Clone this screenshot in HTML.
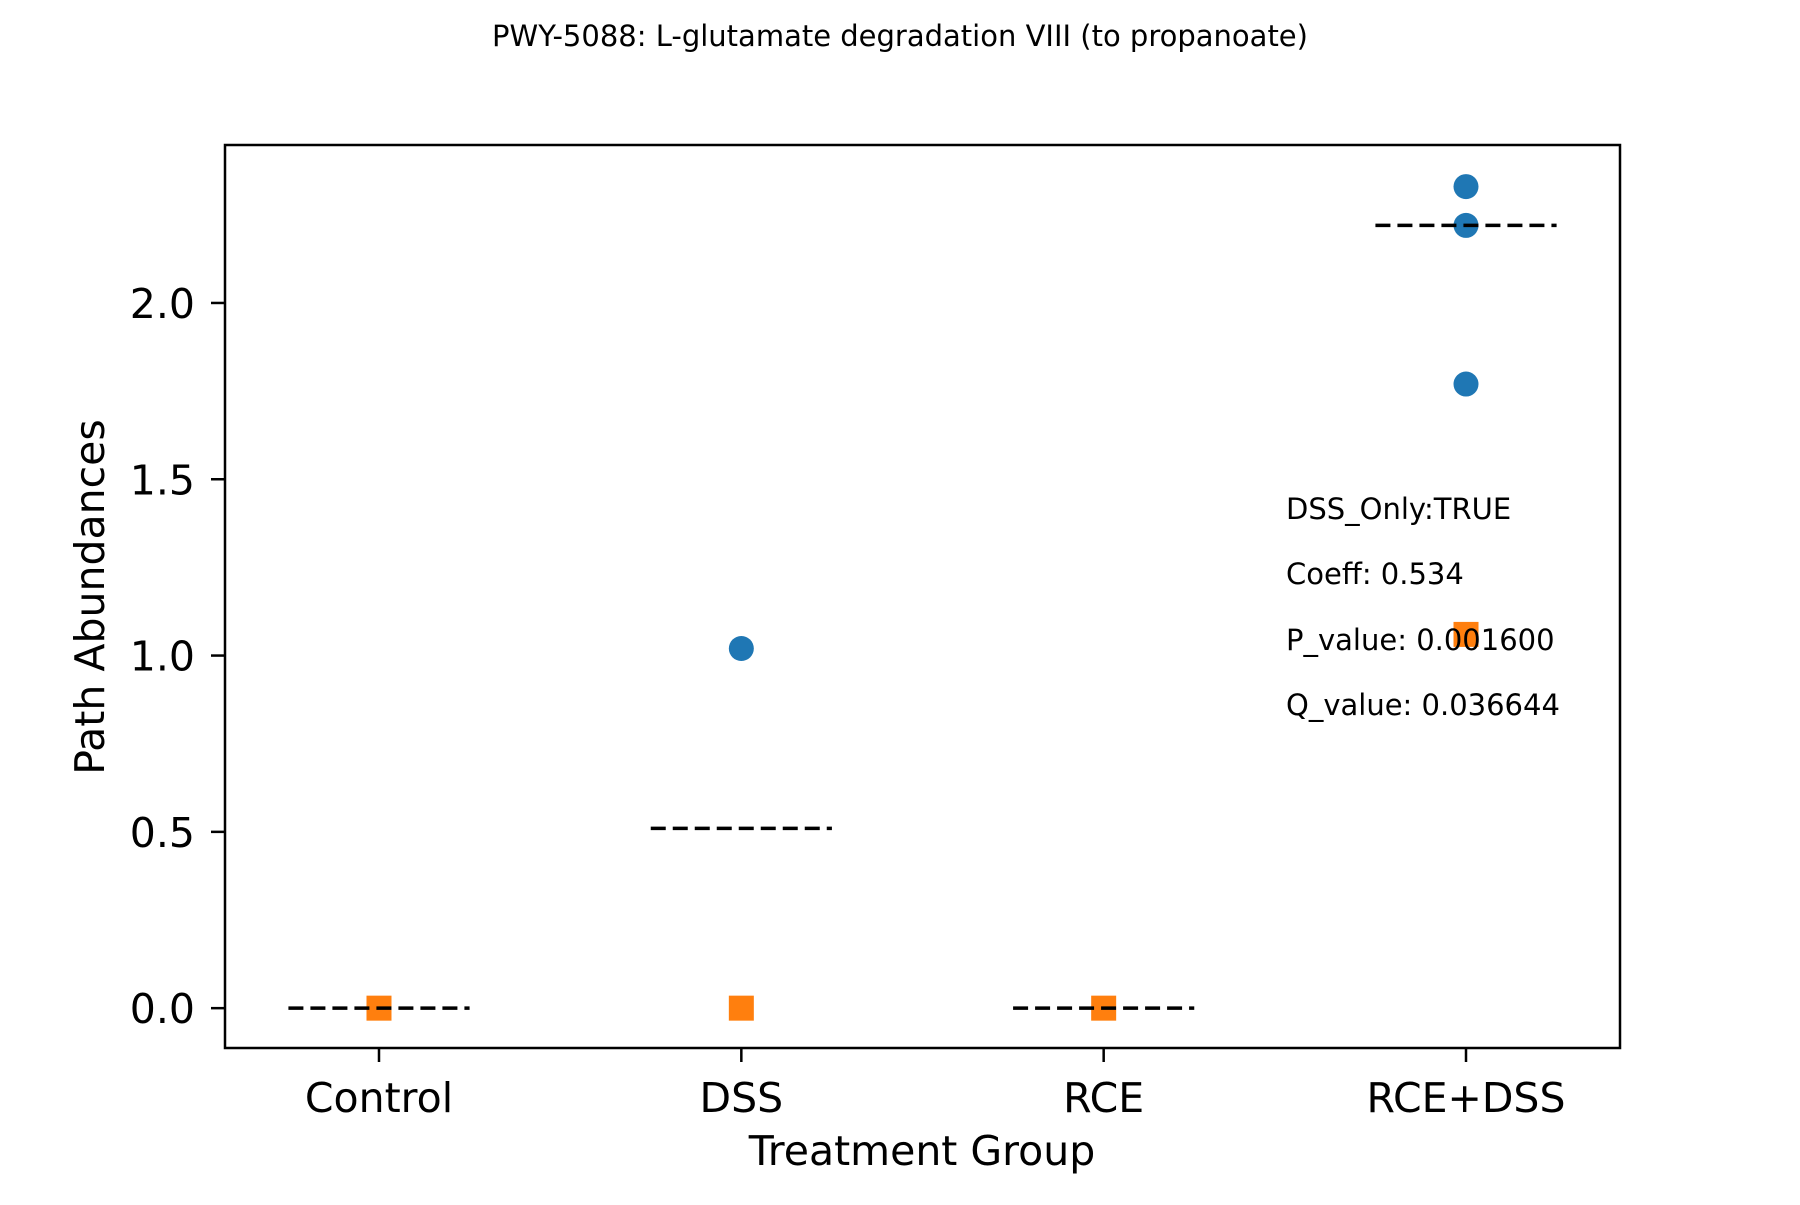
<!DOCTYPE html>
<html><head><meta charset="utf-8"><style>
body{margin:0;background:#fff;}
svg text{font-family:"DejaVu Sans","Liberation Sans",sans-serif;fill:#000;}
</style></head><body>
<svg id="chart" width="1800" height="1200" viewBox="0 0 1800 1200" xmlns="http://www.w3.org/2000/svg">
<rect width="1800" height="1200" fill="#fff"/>
<text x="900" y="46" font-size="29" text-anchor="middle">PWY-5088: L-glutamate degradation VIII (to propanoate)</text>
<g id="plot"></g>
<text x="922" y="1165" font-size="41" text-anchor="middle">Treatment Group</text>
<text transform="translate(104,597) rotate(-90)" font-size="41" text-anchor="middle">Path Abundances</text>
<g font-size="29">
<text x="1286" y="519">DSS_Only:TRUE</text>
<text x="1286" y="584">Coeff: 0.534</text>
<text x="1286" y="650">P_value: 0.001600</text>
<text x="1286" y="715">Q_value: 0.036644</text>
</g>
</svg>
<script>
const categories = ["Control","DSS","RCE","RCE+DSS"];
const blueCat = [1,3,3,3];
const blueVal = [1.02,2.33,2.22,1.77];
const orangeCat = [0,1,2,3];
const orangeVal = [0,0,0,1.06];
const meanVal = [0,0.51,0,2.22];
const yTicks = [0,0.5,1.0,1.5,2.0];
const yTickLabels = ["0.0","0.5","1.0","1.5","2.0"];

const L=225,R=1620,T=145,B=1048;
const xMin=-0.425,xMax=3.425,yMin=-0.113,yMax=2.448;
const xs=v=>L+(v-xMin)/(xMax-xMin)*(R-L);
const ys=v=>B-(v-yMin)/(yMax-yMin)*(B-T);
const NS="http://www.w3.org/2000/svg";
const plot=document.getElementById('plot');
function mk(tag,attrs,parent){const e=document.createElementNS(NS,tag);for(const k in attrs)e.setAttribute(k,attrs[k]);(parent||plot).appendChild(e);return e;}

yTicks.forEach((t,i)=>{
  const ln=mk('line',{x1:L-14,x2:L,y1:ys(t),y2:ys(t),stroke:'#000','stroke-width':2.5});
  
  
  const tx=mk('text',{x:L-30,y:ys(t)+15,'font-size':41,'text-anchor':'end'});
  tx.textContent=yTickLabels[i];
  
  
});
categories.forEach((c,i)=>{
  const ln=mk('line',{x1:xs(i),x2:xs(i),y1:B,y2:B+14,stroke:'#000','stroke-width':2.5});
  
  
  const tx=mk('text',{x:xs(i),y:B+64,'font-size':41,'text-anchor':'middle'});
  tx.textContent=c;
  
  
});
blueCat.forEach((c,i)=>{
  const e=mk('circle',{cx:xs(c),cy:ys(blueVal[i]),r:12.5,fill:'#1f77b4'});
  
  
});
orangeCat.forEach((c,i)=>{
  const e=mk('rect',{x:xs(c)-12.5,y:ys(orangeVal[i])-12.5,width:25,height:25,fill:'#ff7f0e'});
  
  
});
meanVal.forEach((m,i)=>{
  const e=mk('line',{x1:xs(i-0.25),x2:xs(i+0.25),y1:ys(m),y2:ys(m),stroke:'#000','stroke-width':3.5,'stroke-dasharray':'15 7'});
  
  
});
const fr=mk('rect',{x:L,y:T,width:R-L,height:B-T,fill:'none',stroke:'#000','stroke-width':2.5});


</script>
</body></html>
